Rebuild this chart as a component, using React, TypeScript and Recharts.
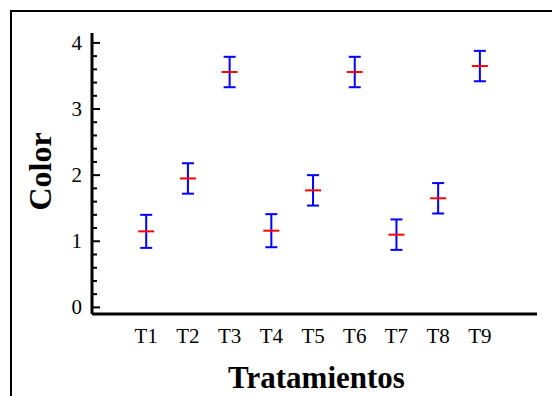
import React from "react";
import { ComposedChart, ErrorBar, Scatter, XAxis, YAxis } from "recharts";

const categories = ["T1", "T2", "T3", "T4", "T5", "T6", "T7", "T8", "T9"];
const positions = [1, 2, 3, 4, 5, 6, 7, 8, 9];
const means = [1.15, 1.95, 3.56, 1.16, 1.77, 3.56, 1.1, 1.65, 3.65];
const errors = [0.25, 0.23, 0.23, 0.25, 0.23, 0.23, 0.23, 0.23, 0.23];
const yMajorTicks = [0, 1, 2, 3, 4];
const yTicks = [
  0, 0.2, 0.4, 0.6, 0.8, 1, 1.2, 1.4, 1.6, 1.8, 2, 2.2, 2.4, 2.6, 2.8, 3, 3.2, 3.4, 3.6,
  3.8, 4
];

const data = categories.map((name, i) => ({
  name,
  x: positions[i],
  mean: means[i],
  err: errors[i]
}));

const FONT = '"Liberation Serif", "Times New Roman", serif';

function YTick(props: any) {
  const { x, y, payload } = props;
  const v = payload.value;
  const major = yMajorTicks.includes(v);
  return (
    <g>
      <line x1={x} y1={y} x2={x + (major ? 8 : 5)} y2={y} stroke="#000" strokeWidth={2} />
      {major ? (
        <text x={x - 10} y={y} dy={7} textAnchor="end" fontSize={21} fontFamily={FONT} fill="#000">
          {v}
        </text>
      ) : null}
    </g>
  );
}

function XTick(props: any) {
  const { x, y, payload } = props;
  return (
    <text x={x} y={y + 29} textAnchor="middle" fontSize={21} fontFamily={FONT} fill="#000">
      {categories[positions.indexOf(payload.value)]}
    </text>
  );
}

function MeanMark(props: any) {
  const { cx, cy } = props;
  return <line x1={cx - 8} x2={cx + 8} y1={cy} y2={cy} stroke="#ff0000" strokeWidth={2} />;
}

export default function App() {
  return (
    <div style={{ position: "absolute", left: 0, top: 0, width: 552, height: 396, background: "#fff" }}>
      <div
        style={{
          position: "absolute",
          left: 10,
          top: 10,
          width: 542,
          height: 386,
          borderTop: "2px solid #000",
          borderLeft: "2px solid #000",
          boxSizing: "border-box"
        }}
      />
      <div style={{ position: "absolute", left: 0, top: 0 }}>
        <ComposedChart width={552} height={396} data={data} margin={{ top: 33, right: 15, bottom: 0, left: 0 }}>
          <XAxis
            type="number"
            dataKey="x"
            domain={[-0.3, 10.37]}
            allowDataOverflow
            ticks={positions}
            interval={0}
            height={82}
            tickSize={0}
            tickMargin={0}
            tickLine={false}
            axisLine={{ stroke: "#000", strokeWidth: 3 }}
            tick={<XTick />}
            label={(p: any) => {
              const vb = p?.viewBox ?? { x: 92, width: 445, y: 314 };
              return (
                <text
                  x={vb.x + vb.width / 2 + 2}
                  y={388}
                  textAnchor="middle"
                  fontSize={31}
                  fontWeight="bold"
                  fontFamily={FONT}
                  fill="#000"
                >
                  Tratamientos
                </text>
              );
            }}
          />
          <YAxis
            type="number"
            domain={[-0.1, 4.15]}
            allowDataOverflow
            ticks={yTicks}
            interval={0}
            width={92}
            tickSize={0}
            tickMargin={0}
            tickLine={false}
            axisLine={{ stroke: "#000", strokeWidth: 3 }}
            tick={<YTick />}
            label={(p: any) => {
              const vb = p?.viewBox ?? { y: 33, height: 281 };
              const cy = vb.y + vb.height / 2;
              return (
                <text
                  transform={`translate(51, ${cy - 2}) rotate(-90)`}
                  textAnchor="middle"
                  fontSize={32}
                  fontWeight="bold"
                  fontFamily={FONT}
                  fill="#000"
                >
                  Color
                </text>
              );
            }}
          />
          <Scatter dataKey="mean" shape={<MeanMark />} isAnimationActive={false}>
            <ErrorBar dataKey="err" direction="y" width={6} stroke="#0000ff" strokeWidth={2} isAnimationActive={false} />
          </Scatter>
        </ComposedChart>
      </div>
    </div>
  );
}
